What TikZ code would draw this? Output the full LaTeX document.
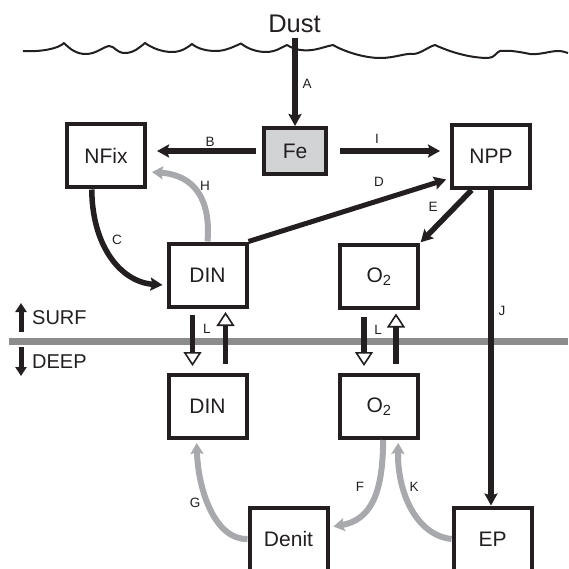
\documentclass[tikz,border=0pt]{standalone}
\usepackage{fontspec}
\setmainfont{Liberation Sans}
\usepackage{tikz}
\usetikzlibrary{arrows.meta}
\definecolor{ink}{HTML}{231F20}
\definecolor{haze}{HTML}{A7A9AC}
\definecolor{rule}{HTML}{8C8C8C}
\definecolor{iron}{HTML}{D1D3D4}
\tikzset{
  pool/.style={draw=ink,line width=4pt,fill=white,minimum width=78pt,minimum height=63pt,inner sep=0pt,font=\fontsize{21}{25}\selectfont,text=ink},
  flux/.style={-{Stealth[length=12pt,width=13pt,inset=2pt]},line width=5.5pt,draw=ink},
  recyc/.style={-{Stealth[length=11pt,width=13pt,inset=2pt]},line width=6pt,draw=haze},
  mix/.style={-{Triangle[length=14pt,width=18pt,line width=1.6pt,fill=white]},line width=5.5pt,draw=ink},
  updown/.style={-{Triangle[length=9pt,width=11pt]},line width=5pt,draw=ink},
  tag/.style={font=\fontsize{13.5}{16}\selectfont,text=ink,inner sep=0pt},
  zone/.style={font=\fontsize{20}{24}\selectfont,text=ink,anchor=west,inner sep=0pt},
  surface/.style={draw=ink,line width=2pt,line join=round},
}

\begin{document}
\begin{tikzpicture}[x=1pt,y=-1pt]
    \useasboundingbox (0,0) rectangle (568,569);
    % sea surface and mixed layer boundary
    \draw[surface] (23,51) .. controls (40,52) and (58,49) .. (64,43)
      .. controls (70,49) and (76,54) .. (86,54) .. controls (96,54) and (103,47) .. (109,46)
      .. controls (115,46) and (116,53) .. (125,53) .. controls (134,53) and (140,47) .. (145,43)
      .. controls (152,48) and (162,52) .. (172,52) .. controls (182,52) and (188,47) .. (192,44)
      .. controls (198,49) and (207,51) .. (216,51) .. controls (226,51) and (235,46) .. (241,43.5)
      .. controls (248,49) and (257,52) .. (266,52) .. controls (276,52) and (282,47) .. (287,45)
      .. controls (295,50) and (303,51) .. (312,50) .. controls (320,49) and (327,46) .. (333,45)
      .. controls (345,52) and (365,58) .. (380,58) .. controls (395,58) and (405,53) .. (413,54)
      .. controls (420,54) and (428,47) .. (435,45)
      .. controls (450,52) and (470,58) .. (488,58) .. controls (495,58) and (496,52) .. (500,51)
      .. controls (510,50) and (520,52) .. (530,54) .. controls (540,55) and (550,51) .. (558,51)
      .. controls (562,51) and (565,52) .. (568,53);
    \draw[rule,line width=7pt] (9,341) -- (568,341);

    \node[font=\fontsize{25.5}{30}\selectfont,text=ink,inner sep=0pt] (dust) at (294.5,23.5) {Dust};
    \node[pool,fill=iron,minimum width=62pt,minimum height=46pt] (fe) at (295,151) {Fe};
    \node[pool] (nfix) at (106,156) {NFix};
    \node[pool] (npp) at (491,156.5) {NPP};
    \node[pool] (dinS) at (207.5,275) {DIN};
    \node[pool] (oxS) at (379,276.5) {O\textsubscript{2}};
    \node[pool] (dinD) at (207.5,406.5) {DIN};
    \node[pool] (oxD) at (379,406.5) {O\textsubscript{2}};
    \node[pool] (denit) at (288.5,539) {Denit};
    \node[pool] (ep) at (492.5,539) {EP};

    \coordinate (dustfoot) at (295,38);
    \draw[flux] (dustfoot) -- (fe.north);
    \draw[flux,shorten <=6pt,shorten >=10pt] (fe.west) -- (nfix.east |- fe.west);
    \draw[flux,shorten <=12pt,shorten >=10pt] (fe.east) -- (npp.west |- fe.east);
    \draw[flux,line width=5pt,shorten >=4pt] (dinS.north east) -- (npp.208);
    \draw[flux,shorten >=1pt] (npp.240) -- (oxS.north east);
    \draw[flux] (npp.south) -- (npp.south |- ep.north);
    \draw[flux,shorten >=4pt] (nfix.247) .. controls (92,245) and (120,282) .. (dinS.194);
    \draw[recyc,shorten >=5pt] (dinS.north) .. controls (211,200) and (195,175) .. (nfix.-21);

    \draw[mix,shorten <=6.5pt,shorten >=7pt] ([xshift=-15pt]dinS.south) -- ([xshift=-15pt]dinD.north);
    \draw[mix,shorten <=9pt,shorten >=3.5pt] ([xshift=18pt]dinD.north) -- ([xshift=18pt]dinS.south);
    \draw[mix,shorten <=6.5pt,shorten >=7pt] ([xshift=-15pt]oxS.south) -- ([xshift=-15pt]oxD.north);
    \draw[mix,shorten <=9pt,shorten >=3.5pt] ([xshift=17pt]oxD.north) -- ([xshift=17pt]oxS.south);

    \draw[recyc,shorten >=3pt] (denit.west) .. controls (215,540) and (198,490) .. (dinD.252);
    \draw[recyc,shorten >=4pt] (oxD.-83) .. controls (383,495) and (370,520) .. (denit.16);
    \draw[recyc,shorten >=3pt] (ep.west) .. controls (415,535) and (397,490) .. (oxD.-60);

    \coordinate (surfbase) at (21,332);
    \coordinate (surftop) at (21,303);
    \coordinate (deepbase) at (21,347);
    \coordinate (deeptip) at (21,376);
    \draw[updown] (surfbase) -- (surftop);
    \draw[updown] (deepbase) -- (deeptip);
    \node[zone] (surf) at (32,318) {SURF};
    \node[zone] (deep) at (32,362) {DEEP};

    \node[tag] (lA) at (307,84) {A};
    \node[tag] (lB) at (210,142) {B};
    \node[tag] (lI) at (377,139) {I};
    \node[tag] (lD) at (379,182) {D};
    \node[tag] (lE) at (433,207) {E};
    \node[tag] (lJ) at (502,311) {J};
    \node[tag] (lC) at (117,240) {C};
    \node[tag] (lH) at (205,186) {H};
    \node[tag] (lL1) at (207,329) {L};
    \node[tag] (lL2) at (378,330) {L};
    \node[tag] (lG) at (195,503) {G};
    \node[tag] (lF) at (360,487) {F};
    \node[tag] (lK) at (414,487) {K};
\end{tikzpicture}
\end{document}
